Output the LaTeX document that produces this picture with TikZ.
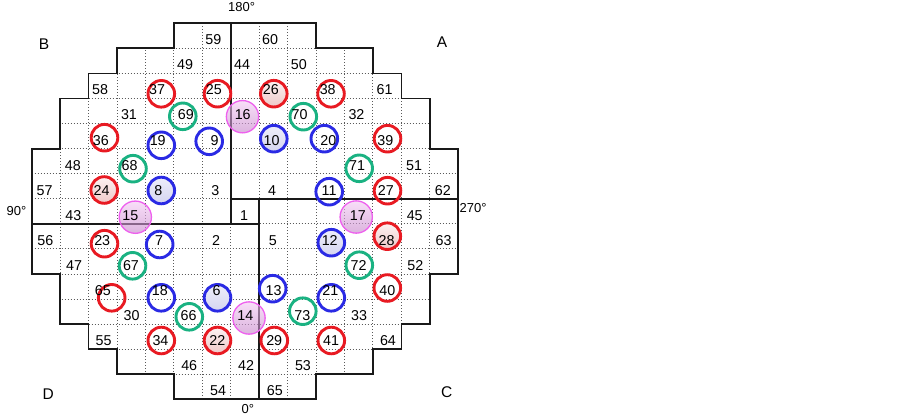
\documentclass[tikz,border=0pt]{standalone}
\usepackage{fontspec}
\setmainfont{Liberation Sans}
\definecolor{cred}{RGB}{232,26,34}
\definecolor{cblue}{RGB}{42,42,228}
\definecolor{cgreen}{RGB}{26,178,130}
\definecolor{cmag}{RGB}{238,96,238}
\definecolor{pinktop}{RGB}{244,200,244}
\definecolor{pinkbot}{RGB}{196,130,200}
\definecolor{redtop}{RGB}{252,242,242}
\definecolor{redbot}{RGB}{238,200,200}
\definecolor{bluetop}{RGB}{238,238,250}
\definecolor{bluebot}{RGB}{212,212,240}
\definecolor{gridgray}{RGB}{90,90,90}
\definecolor{outl}{RGB}{25,25,25}
\begin{document}
\begin{tikzpicture}[x=1pt,y=-1pt,
  num/.style={font=\fontsize{14.3}{14.3}\selectfont, inner sep=0pt},
  lbl/.style={font=\fontsize{15.5}{15.5}\selectfont, inner sep=0pt},
  deg/.style={font=\fontsize{13}{13}\selectfont, inner sep=0pt, anchor=west},
  ring/.style={circle, inner sep=0pt, minimum size=26.6pt, line width=2.9pt},
  redring/.style={ring, draw=cred},
  redfill/.style={ring, draw=cred, top color=redtop, bottom color=redbot},
  bluering/.style={ring, draw=cblue},
  bluefill/.style={ring, draw=cblue, top color=bluetop, bottom color=bluebot},
  greenring/.style={ring, draw=cgreen},
  pinkring/.style={circle, inner sep=0pt, minimum size=32.3pt, line width=1.3pt, draw=cmag, top color=pinktop, bottom color=pinkbot, fill opacity=0.6},
  gridline/.style={gridgray, line width=1pt, dash pattern=on 1.1pt off 1.9pt},
  outline/.style={outl, line width=1.8pt},
]
\useasboundingbox (0,0) rectangle (903,415);
\fill[white] (0,0) rectangle (903,415);

\begin{scope}[shift={(31.7pt,-23.3pt)}, x=28.44pt, y=-25.07pt]
  \begin{scope}
    \clip (5,0) -- (10,0) -- (10,1) -- (12,1) -- (12,2) -- (13,2) -- (13,3) -- (14,3) -- (14,5) -- (15,5) -- (15,10) -- (14,10) -- (14,12) -- (13,12) -- (13,13) -- (12,13) -- (12,14) -- (10,14) -- (10,15) -- (5,15) -- (5,14) -- (3,14) -- (3,13) -- (2,13) -- (2,12) -- (1,12) -- (1,10) -- (0,10) -- (0,5) -- (1,5) -- (1,3) -- (2,3) -- (2,2) -- (3,2) -- (3,1) -- (5,1) -- cycle;
    \foreach \i in {1,...,14} {
      \draw[gridline] (\i,0) -- (\i,15);
      \draw[gridline] (0,\i) -- (15,\i);
    }
  \end{scope}
  \draw[outline] (5,0) -- (10,0) -- (10,1) -- (12,1) -- (12,2) -- (13,2) -- (13,3) -- (14,3) -- (14,5) -- (15,5) -- (15,10) -- (14,10) -- (14,12) -- (13,12) -- (13,13) -- (12,13) -- (12,14) -- (10,14) -- (10,15) -- (5,15) -- (5,14) -- (3,14) -- (3,13) -- (2,13) -- (2,12) -- (1,12) -- (1,10) -- (0,10) -- (0,5) -- (1,5) -- (1,3) -- (2,3) -- (2,2) -- (3,2) -- (3,1) -- (5,1) -- cycle;
  \draw[outline] (7,0) -- (7,8);
  \draw[outline] (0,8) -- (8,8);
  \draw[outline] (8,7) -- (8,15);
  \draw[outline] (7,7) -- (15,7);
\end{scope}

% red rings
\foreach \n/\x/\y in {37/161.3/93.8, 25/217.5/93.7, 38/331/93.8, 36/104.5/137.7, 39/387.5/138.7, 27/387.5/190.7, 23/104.5/243.7, 65/111.7/297.8, 40/387.3/288, 34/161.3/340.5, 29/274.3/340.5, 41/331.3/340.5}
  \node[redring] (c\n) at (\x,\y) {};
\foreach \n/\x/\y in {26/273.8/93.7, 24/104.2/190, 28/387.3/236.2, 22/217.5/340.5}
  \node[redfill] (c\n) at (\x,\y) {};
% green rings
\foreach \n/\x/\y in {69/182.8/116.3, 70/303.3/116.7, 68/133/168.7, 71/359.2/168.3, 67/132.5/265.8, 72/359.3/265.2, 66/189.3/316.8, 73/302.8/311.2}
  \node[greenring] (c\n) at (\x,\y) {};
% blue rings
\foreach \n/\x/\y in {19/161.3/145.3, 9/209.2/141.3, 20/324.3/138.7, 11/329.2/191.7, 7/159.7/244.5, 18/161.3/297.8, 13/272.7/288.7, 21/331.3/297.8}
  \node[bluering] (c\n) at (\x,\y) {};
\foreach \n/\x/\y in {10/273.8/138.7, 8/161.3/190.5, 12/331.3/242.7, 6/217.5/297.8}
  \node[bluefill] (c\n) at (\x,\y) {};
% pink
\foreach \n/\x/\y in {16/242.5/116.7, 15/135.3/217.2, 17/356.2/217, 14/249/318}
  \node[pinkring] (c\n) at (\x,\y) {};

% numbers
\foreach \c/\r/\t in {6/0/59, 8/0/60,
  5/1/49, 7/1/44, 9/1/50,
  2/2/58, 4/2/37, 6/2/25, 8/2/26, 10/2/38, 12/2/61,
  3/3/31, 5/3/69, 7/3/16, 9/3/70, 11/3/32,
  2/4/36, 4/4/19, 6/4/9, 8/4/10, 10/4/20, 12/4/39,
  1/5/48, 3/5/68, 11/5/71, 13/5/51,
  0/6/57, 2/6/24, 4/6/8, 6/6/3, 8/6/4, 10/6/11, 12/6/27, 14/6/62,
  1/7/43, 3/7/15, 7/7/1, 11/7/17, 13/7/45,
  0/8/56, 2/8/23, 4/8/7, 6/8/2, 8/8/5, 10/8/12, 12/8/28, 14/8/63,
  1/9/47, 3/9/67, 11/9/72, 13/9/52,
  2/10/65, 4/10/18, 6/10/6, 8/10/13, 10/10/21, 12/10/40,
  3/11/30, 5/11/66, 7/11/14, 9/11/73, 11/11/33,
  2/12/55, 4/12/34, 6/12/22, 8/12/29, 10/12/41, 12/12/64,
  5/13/46, 7/13/42, 9/13/53,
  6/14/54, 8/14/65}
  \node[num] (cell\c-\r) at ({31.7+(\c+0.5)*28.44-3.3+0.34*\r},{23.3+(\r+0.5)*25.07+4}) {\t};

% labels
\node[lbl] (lA) at (442,42.2) {A};
\node[lbl] (lB) at (44,43.7) {B};
\node[lbl] (lC) at (446.7,392.5) {C};
\node[lbl] (lD) at (48.3,394.5) {D};
\node[deg] (d180) at (228,7.2) {180°};
\node[deg] (d270) at (459.5,208.3) {270°};
\node[deg] (d90) at (6.5,211.3) {90°};
\node[deg] (d0) at (241.5,408.7) {0°};
\end{tikzpicture}
\end{document}
